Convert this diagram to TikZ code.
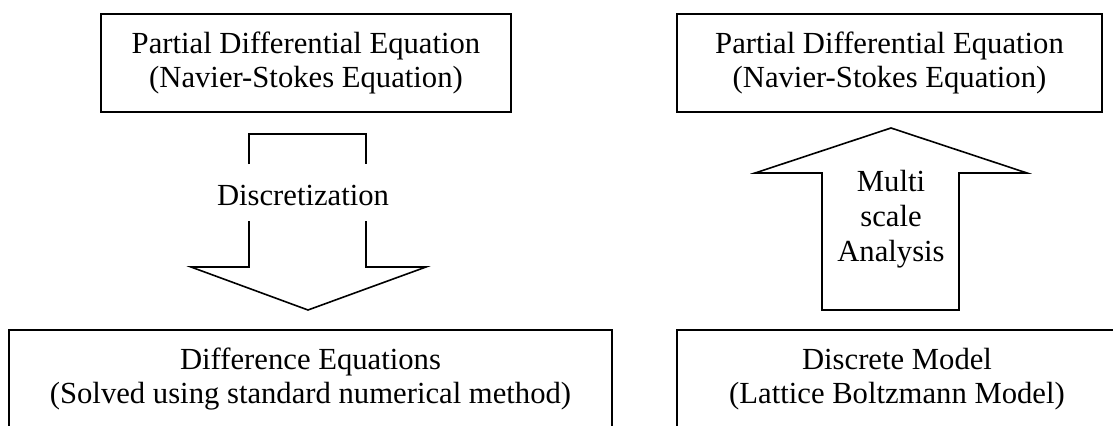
\documentclass[tikz,border=0pt]{standalone}
\usepackage{fontspec}
\setmainfont{Liberation Serif}
\usepackage{tikz}

\begin{document}
\begin{tikzpicture}[
  x=0.75pt, y=-0.75pt,
  box/.style={rectangle, draw, line width=1.3pt, minimum height=73.5pt,
              align=center, font=\fontsize{23}{26}\selectfont},
  label/.style={align=center, font=\fontsize{23}{26}\selectfont},
  blockarrow/.style={draw, line width=1.2pt, fill=white},
]
\fill[white] (0,0) rectangle (1113,425);
\clip (0,0) rectangle (1113,425);

% left side: discretization
\node[box, minimum width=307.5pt] (pdeL) at (306, 63)
  {Partial Differential Equation\\(Navier-Stokes Equation)};
\node[box, minimum width=452.25pt] (diff) at (310.5, 379)
  {Difference Equations\\(Solved using standard numerical method)};
\node[label] (disc) at (303, 195) {Discretization};
\draw[blockarrow, fill=none] (249,164) -- (249,134) -- (366,134) -- (366,164);
\draw[blockarrow, fill=none] (249,221) -- (249,267) -- (191,267) -- (308,310)
  -- (426,267) -- (366,267) -- (366,221);

% right side: multiscale analysis
\node[box, minimum width=318.75pt] (pdeR) at (889.5, 63)
  {Partial Differential Equation\\(Navier-Stokes Equation)};
\node[box, minimum width=330pt] (lbm) at (897, 379)
  {Discrete Model\\(Lattice Boltzmann Model)};
\draw[blockarrow] (822,310) -- (822,173) -- (755,173) -- (891,128)
  -- (1027,173) -- (959,173) -- (959,310) -- cycle;
\node[label] (msa) at (891, 219) {Multi\\scale\\Analysis};
\end{tikzpicture}
\end{document}
